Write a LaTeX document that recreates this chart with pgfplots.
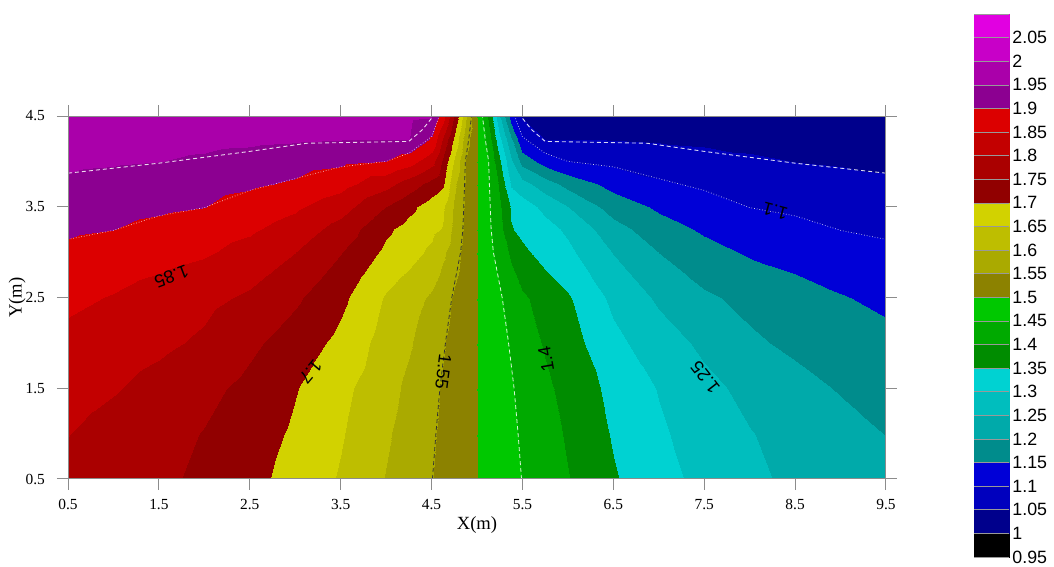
\documentclass[border=0pt]{standalone}
\usepackage{pgfplots}
\pgfplotsset{compat=1.18}
\usepackage{pgfplotstable}
\usepackage{fontspec}
\setmainfont{Liberation Serif}
\newfontfamily\arial{Liberation Sans}

\pgfplotsset{colormap={contourmap}{
rgb255=(0,0,0) rgb255=(0,0,140) rgb255=(0,0,190) rgb255=(0,0,215)
rgb255=(0,140,140) rgb255=(0,170,170) rgb255=(0,190,190) rgb255=(0,210,210)
rgb255=(0,140,0) rgb255=(0,170,0) rgb255=(0,200,0)
rgb255=(140,130,0) rgb255=(170,170,0) rgb255=(190,190,0) rgb255=(210,210,0)
rgb255=(145,0,0) rgb255=(170,0,0) rgb255=(195,0,0) rgb255=(220,0,0)
rgb255=(140,0,145) rgb255=(170,0,170) rgb255=(200,0,200) rgb255=(225,0,225)
}}

\pgfplotstableread[row sep=\\]{
x y z\\
0.5 0.5 1.785\\ 1 0.5 1.772\\ 1.5 0.5 1.759\\ 2 0.5 1.741\\ 2.5 0.5 1.714\\ 3 0.5 1.683\\ 3.5 0.5 1.645\\ 4 0.5 1.598\\ 4.25 0.5 1.575\\ 4.5 0.5 1.551\\ 4.625 0.5 1.539\\ 4.75 0.5 1.526\\ 4.875 0.5 1.513\\ 5 0.5 1.5\\ 5.125 0.5 1.487\\ 5.25 0.5 1.474\\ 5.375 0.5 1.461\\ 5.5 0.5 1.449\\ 5.75 0.5 1.425\\ 6 0.5 1.402\\ 6.5 0.5 1.355\\ 7 0.5 1.317\\ 7.5 0.5 1.286\\ 8 0.5 1.259\\ 8.5 0.5 1.241\\ 9 0.5 1.228\\ 9.5 0.5 1.215\\
0.5 1 1.801\\ 1 1 1.783\\ 1.5 1 1.766\\ 2 1 1.748\\ 2.5 1 1.722\\ 3 1 1.693\\ 3.5 1 1.654\\ 4 1 1.606\\ 4.25 1 1.581\\ 4.5 1 1.555\\ 4.625 1 1.542\\ 4.75 1 1.528\\ 4.875 1 1.514\\ 5 1 1.5\\ 5.125 1 1.486\\ 5.25 1 1.472\\ 5.375 1 1.458\\ 5.5 1 1.445\\ 5.75 1 1.419\\ 6 1 1.394\\ 6.5 1 1.346\\ 7 1 1.307\\ 7.5 1 1.278\\ 8 1 1.252\\ 8.5 1 1.234\\ 9 1 1.217\\ 9.5 1 1.199\\
0.5 1.5 1.819\\ 1 1.5 1.804\\ 1.5 1.5 1.784\\ 2 1.5 1.763\\ 2.5 1.5 1.737\\ 3 1.5 1.703\\ 3.5 1.5 1.663\\ 4 1.5 1.617\\ 4.25 1.5 1.590\\ 4.5 1.5 1.561\\ 4.625 1.5 1.546\\ 4.75 1.5 1.530\\ 4.875 1.5 1.515\\ 5 1.5 1.5\\ 5.125 1.5 1.485\\ 5.25 1.5 1.470\\ 5.375 1.5 1.454\\ 5.5 1.5 1.439\\ 5.75 1.5 1.410\\ 6 1.5 1.383\\ 6.5 1.5 1.337\\ 7 1.5 1.297\\ 7.5 1.5 1.263\\ 8 1.5 1.237\\ 8.5 1.5 1.216\\ 9 1.5 1.196\\ 9.5 1.5 1.181\\
0.5 2 1.837\\ 1 2 1.824\\ 1.5 2 1.810\\ 2 2 1.792\\ 2.5 2 1.760\\ 3 2 1.727\\ 3.5 2 1.687\\ 4 2 1.629\\ 4.25 2 1.605\\ 4.5 2 1.572\\ 4.625 2 1.554\\ 4.75 2 1.536\\ 4.875 2 1.518\\ 5 2 1.5\\ 5.125 2 1.482\\ 5.25 2 1.464\\ 5.375 2 1.446\\ 5.5 2 1.428\\ 5.75 2 1.395\\ 6 2 1.371\\ 6.5 2 1.313\\ 7 2 1.273\\ 7.5 2 1.240\\ 8 2 1.208\\ 8.5 2 1.190\\ 9 2 1.176\\ 9.5 2 1.163\\
0.5 2.5 1.860\\ 1 2.5 1.847\\ 1.5 2.5 1.830\\ 2 2.5 1.813\\ 2.5 2.5 1.792\\ 3 2.5 1.758\\ 3.5 2.5 1.711\\ 4 2.5 1.645\\ 4.25 2.5 1.620\\ 4.5 2.5 1.592\\ 4.625 2.5 1.568\\ 4.75 2.5 1.545\\ 4.875 2.5 1.522\\ 5 2.5 1.5\\ 5.125 2.5 1.478\\ 5.25 2.5 1.455\\ 5.375 2.5 1.432\\ 5.5 2.5 1.408\\ 5.75 2.5 1.380\\ 6 2.5 1.355\\ 6.5 2.5 1.289\\ 7 2.5 1.242\\ 7.5 2.5 1.208\\ 8 2.5 1.187\\ 8.5 2.5 1.170\\ 9 2.5 1.153\\ 9.5 2.5 1.140\\
0.5 3 1.891\\ 1 3 1.879\\ 1.5 3 1.868\\ 2 3 1.856\\ 2.5 3 1.834\\ 3 3 1.801\\ 3.5 3 1.752\\ 4 3 1.690\\ 4.25 3 1.668\\ 4.5 3 1.640\\ 4.625 3 1.610\\ 4.75 3 1.571\\ 4.875 3 1.533\\ 5 3 1.5\\ 5.125 3 1.467\\ 5.25 3 1.429\\ 5.375 3 1.390\\ 5.5 3 1.360\\ 5.75 3 1.332\\ 6 3 1.310\\ 6.5 3 1.248\\ 7 3 1.199\\ 7.5 3 1.166\\ 8 3 1.144\\ 8.5 3 1.132\\ 9 3 1.121\\ 9.5 3 1.109\\
0.5 3.25 1.907\\ 1 3.25 1.901\\ 1.5 3.25 1.886\\ 2 3.25 1.872\\ 2.5 3.25 1.857\\ 3 3.25 1.829\\ 3.5 3.25 1.781\\ 4 3.25 1.709\\ 4.25 3.25 1.683\\ 4.5 3.25 1.661\\ 4.625 3.25 1.647\\ 4.75 3.25 1.586\\ 4.875 3.25 1.538\\ 5 3.25 1.5\\ 5.125 3.25 1.462\\ 5.25 3.25 1.414\\ 5.375 3.25 1.353\\ 5.5 3.25 1.339\\ 5.75 3.25 1.317\\ 6 3.25 1.291\\ 6.5 3.25 1.219\\ 7 3.25 1.171\\ 7.5 3.25 1.143\\ 8 3.25 1.128\\ 8.5 3.25 1.114\\ 9 3.25 1.099\\ 9.5 3.25 1.093\\
0.5 3.5 1.925\\ 1 3.5 1.917\\ 1.5 3.5 1.909\\ 2 3.5 1.901\\ 2.5 3.5 1.881\\ 3 3.5 1.858\\ 3.5 3.5 1.821\\ 4 3.5 1.749\\ 4.25 3.5 1.713\\ 4.5 3.5 1.675\\ 4.625 3.5 1.656\\ 4.75 3.5 1.595\\ 4.875 3.5 1.541\\ 5 3.5 1.5\\ 5.125 3.5 1.459\\ 5.25 3.5 1.405\\ 5.375 3.5 1.344\\ 5.5 3.5 1.325\\ 5.75 3.5 1.287\\ 6 3.5 1.251\\ 6.5 3.5 1.179\\ 7 3.5 1.142\\ 7.5 3.5 1.119\\ 8 3.5 1.099\\ 8.5 3.5 1.091\\ 9 3.5 1.083\\ 9.5 3.5 1.075\\
0.5 3.75 1.943\\ 1 3.75 1.934\\ 1.5 3.75 1.925\\ 2 3.75 1.916\\ 2.5 3.75 1.907\\ 3 3.75 1.894\\ 3.5 3.75 1.867\\ 4 3.75 1.817\\ 4.25 3.75 1.776\\ 4.5 3.75 1.732\\ 4.625 3.75 1.707\\ 4.75 3.75 1.611\\ 4.875 3.75 1.544\\ 5 3.75 1.5\\ 5.125 3.75 1.456\\ 5.25 3.75 1.389\\ 5.375 3.75 1.293\\ 5.5 3.75 1.268\\ 5.75 3.75 1.224\\ 6 3.75 1.183\\ 6.5 3.75 1.133\\ 7 3.75 1.106\\ 7.5 3.75 1.093\\ 8 3.75 1.084\\ 8.5 3.75 1.075\\ 9 3.75 1.066\\ 9.5 3.75 1.057\\
0.5 4 1.958\\ 1 4 1.955\\ 1.5 4 1.951\\ 2 4 1.943\\ 2.5 4 1.932\\ 3 4 1.921\\ 3.5 4 1.911\\ 4 4 1.901\\ 4.25 4 1.873\\ 4.5 4 1.820\\ 4.625 4 1.741\\ 4.75 4 1.647\\ 4.875 4 1.548\\ 5 4 1.5\\ 5.125 4 1.452\\ 5.25 4 1.353\\ 5.375 4 1.259\\ 5.5 4 1.180\\ 5.75 4 1.127\\ 6 4 1.099\\ 6.5 4 1.089\\ 7 4 1.079\\ 7.5 4 1.068\\ 8 4 1.057\\ 8.5 4 1.049\\ 9 4 1.045\\ 9.5 4 1.042\\
0.5 4.25 1.970\\ 1 4.25 1.968\\ 1.5 4.25 1.966\\ 2 4.25 1.963\\ 2.5 4.25 1.960\\ 3 4.25 1.956\\ 3.5 4.25 1.952\\ 4 4.25 1.951\\ 4.25 4.25 1.951\\ 4.5 4.25 1.894\\ 4.625 4.25 1.794\\ 4.75 4.25 1.695\\ 4.875 4.25 1.570\\ 5 4.25 1.5\\ 5.125 4.25 1.430\\ 5.25 4.25 1.305\\ 5.375 4.25 1.206\\ 5.5 4.25 1.106\\ 5.75 4.25 1.049\\ 6 4.25 1.049\\ 6.5 4.25 1.048\\ 7 4.25 1.044\\ 7.5 4.25 1.040\\ 8 4.25 1.037\\ 8.5 4.25 1.034\\ 9 4.25 1.032\\ 9.5 4.25 1.030\\
0.5 4.5 1.985\\ 1 4.5 1.983\\ 1.5 4.5 1.980\\ 2 4.5 1.977\\ 2.5 4.5 1.973\\ 3 4.5 1.969\\ 3.5 4.5 1.965\\ 4 4.5 1.962\\ 4.25 4.5 1.960\\ 4.5 4.5 1.955\\ 4.625 4.5 1.875\\ 4.75 4.5 1.750\\ 4.875 4.5 1.605\\ 5 4.5 1.5\\ 5.125 4.5 1.395\\ 5.25 4.5 1.250\\ 5.375 4.5 1.125\\ 5.5 4.5 1.045\\ 5.75 4.5 1.040\\ 6 4.5 1.038\\ 6.5 4.5 1.035\\ 7 4.5 1.031\\ 7.5 4.5 1.027\\ 8 4.5 1.023\\ 8.5 4.5 1.020\\ 9 4.5 1.017\\ 9.5 4.5 1.015\\
}\griddata

\begin{document}
\begin{tikzpicture}
\path[use as bounding box] (0,0) rectangle (527pt,283.5pt);
\begin{axis}[
  at={(34pt,44pt)}, anchor=south west,
  width=409pt, height=181.5pt, scale only axis,
  xmin=0.5, xmax=9.5, ymin=0.5, ymax=4.5,
  colormap name=contourmap,
  colormap access=piecewise constant,
  point meta min=0.95, point meta max=2.1,
  xtick={0.5,1.5,2.5,3.5,4.5,5.5,6.5,7.5,8.5,9.5},
  xticklabels={0.5,1.5,2.5,3.5,4.5,5.5,6.5,7.5,8.5,9.5},
  ytick={0.5,1.5,2.5,3.5,4.5},
  yticklabels={0.5,1.5,2.5,3.5,4.5},
  tick align=outside,
  major tick length=5.5pt,
  xticklabel pos=lower, yticklabel pos=left,
  tick style={draw=black!45, line width=0.5pt},
  axis line style={draw=black!45, line width=0.5pt},
  ticklabel style={font=\fontsize{7.7}{9}\selectfont},
  yticklabel style={xshift=-2.5pt},
  xticklabel style={yshift=-1pt},
  xlabel={X(m)}, ylabel={Y(m)},
  label style={font=\fontsize{9.3}{11}\selectfont},
  xlabel style={at={(axis description cs:0.5,-0.127)}, anchor=center},
  ylabel style={at={(axis description cs:-0.0623,0.5)}, anchor=center},
  axis on top,
  colorbar,
  colorbar style={
    at={(parent axis.north east)}, anchor=north west,
    xshift=35.5pt, yshift=51pt,
    width=17.5pt, height=271.5pt, scale only axis,
    ytick={0.95,1,1.05,1.1,1.15,1.2,1.25,1.3,1.35,1.4,1.45,1.5,1.55,1.6,1.65,1.7,1.75,1.8,1.85,1.9,1.95,2,2.05,2.1},
    yticklabels={0.95,1,1.05,1.1,1.15,1.2,1.25,1.3,1.35,1.4,1.45,1.5,1.55,1.6,1.65,1.7,1.75,1.8,1.85,1.9,1.95,2,2.05,{}},
    yticklabel style={font=\arial\fontsize{8.9}{10}\selectfont, inner xsep=1.5pt},
    tick align=inside, major tick length=17.5pt,
    ytick style={draw=black!40, line width=0.3pt},
    axis line style={draw=none},
  },
]
\addplot[surf, shader=interp, mesh/rows=12, mesh/cols=27, point meta=explicit]
  table[x=x, y=y, meta=z] {\griddata};
% contour lines
\addplot[white, line width=0.45pt, dash pattern=on 2pt off 1.5pt, opacity=0.85] coordinates {
(0.5,3.87) (1.5,3.98) (2.5,4.11) (3.13,4.20) (4.25,4.22) (4.4,4.35) (4.52,4.5)};
\addplot[white, line width=0.45pt, dash pattern=on 2pt off 1.5pt, opacity=0.85] coordinates {
(9.5,3.87) (8.5,3.98) (7.5,4.11) (6.87,4.20) (5.75,4.22) (5.6,4.35) (5.48,4.5)};
\addplot[white, line width=0.35pt, densely dotted, opacity=0.8] coordinates {
(0.5,3.14) (1,3.24) (1.5,3.40) (2,3.49) (2.5,3.68) (3,3.81) (3.5,3.94) (4,4.0) (4.25,4.09) (4.5,4.27) (4.586,4.5)};
\addplot[white, line width=0.35pt, densely dotted, opacity=0.8] coordinates {
(9.5,3.14) (9,3.24) (8.5,3.40) (8,3.49) (7.5,3.68) (7,3.81) (6.5,3.94) (6,4.0) (5.75,4.09) (5.5,4.27) (5.414,4.5)};
\addplot[black!80, line width=0.4pt, dash pattern=on 2pt off 1.5pt] coordinates {
(4.51,0.5) (4.548,1) (4.592,1.5) (4.653,2) (4.723,2.5) (4.82,3) (4.844,3.25) (4.854,3.5) (4.864,3.75) (4.872,4) (4.91,4.25) (4.94,4.5)};
\addplot[white, line width=0.4pt, dash pattern=on 2pt off 1.5pt, opacity=0.85] coordinates {
(5.49,0.5) (5.452,1) (5.408,1.5) (5.347,2) (5.277,2.5) (5.18,3) (5.156,3.25) (5.146,3.5) (5.136,3.75) (5.128,4) (5.09,4.25) (5.06,4.5)};
\begin{scope}[every node/.style={font=\arial\fontsize{9}{10}\selectfont, inner sep=0pt}]
\node[rotate=201] at (axis cs:1.64,2.73) {1.85};
\node[rotate=230] at (axis cs:3.17,1.68) {1.7};
\node[rotate=263] at (axis cs:4.63,1.68) {1.55};
\node[rotate=100] at (axis cs:5.76,1.82) {1.4};
\node[rotate=128] at (axis cs:7.51,1.62) {1.25};
\node[rotate=165] at (axis cs:8.28,3.45) {1.1};
\end{scope}
\end{axis}
\end{tikzpicture}
\end{document}
